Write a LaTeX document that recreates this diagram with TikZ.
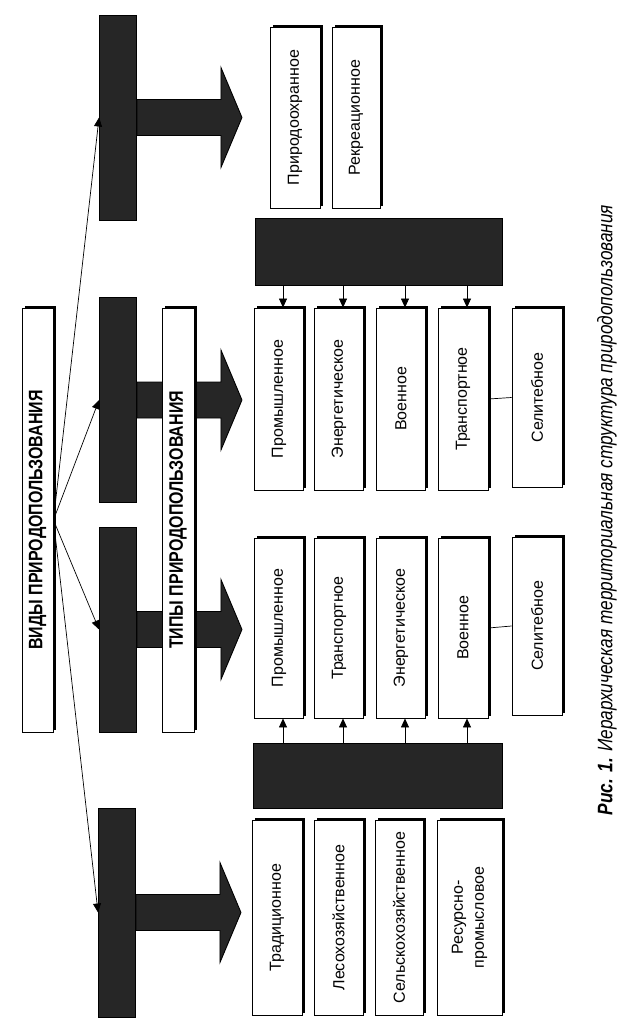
\documentclass[tikz,border=0pt]{standalone}
\usepackage{fontspec}
\setmainfont{Liberation Sans}
\newfontfamily\narrowsf[FakeStretch=0.82]{Liberation Sans}
\usetikzlibrary{arrows.meta}
\usetikzlibrary{shadows}
\newcommand{\vtext}[1]{\rotatebox{90}{#1}}
\tikzset{
  % node options
  kind/.style={draw,line width=0.9pt,fill=white,inner sep=0pt,
    drop shadow={shadow xshift=2.5pt,shadow yshift=2.5pt,fill=black,opacity=1},
    font=\fontsize{16}{19}\selectfont},
  title/.style={kind,font=\narrowsf\bfseries\fontsize{19.5}{22}\selectfont},
  hidden/.style={draw,line width=0.9pt,fill=black!85,inner sep=0pt},
  tbar/.style={hidden,minimum width=37pt,minimum height=205pt},
  % path options
  link/.style={-{Triangle[length=9pt,width=8pt]},line width=0.7pt},
  bigarrow/.style={draw,line width=0.9pt,fill=black!85},
}

\begin{document}
\begin{tikzpicture}[x=1pt,y=-1pt]
  \useasboundingbox (0,0) rectangle (633,1036);
  % left column
  \node[title,minimum width=31pt,minimum height=424pt] (vidy) at (37.5,520)
    {\vtext{ВИДЫ ПРИРОДОПОЛЬЗОВАНИЯ}};
  \node[tbar] (barA) at (118,117.5) {};
  \node[tbar] (barB) at (118,400) {};
  \node[tbar] (barC) at (118,629.5) {};
  \node[tbar,minimum height=209pt] (barD) at (117,912.5) {};
  \foreach \t in {barA,barB,barC,barD}
    \draw[bigarrow] (\t.east) ++(0,-18) -- ++(84,0) -- ++(0,-32) -- ++(21,50)
      -- ++(-21,50) -- ++(0,-32) -- ++(-84,0) -- cycle;
  \node[title,minimum width=32pt,minimum height=424pt] (tipy) at (178,520)
    {\vtext{ТИПЫ ПРИРОДОПОЛЬЗОВАНИЯ}};
  \foreach \t in {barA,barB,barC,barD}
    \draw[link] (vidy.east) -- (\t.west);

  % top group
  \node[kind,minimum width=50pt,minimum height=181pt] (tPrir) at (295,117.5) {\vtext{Природоохранное}};
  \node[kind,minimum width=48pt,minimum height=181pt] (tRekr) at (356,117.5) {\vtext{Рекреационное}};

  % upper group
  \node[hidden,minimum width=247pt,minimum height=67pt] (darkUp) at (378.5,251.5) {};
  \node[kind,minimum width=49pt,minimum height=182pt] (rPrm) at (279,399) {\vtext{Промышленное}};
  \node[kind,minimum width=49pt,minimum height=182pt] (rEnr) at (339,399) {\vtext{Энергетическое}};
  \node[kind,minimum width=49pt,minimum height=182pt] (rVoen) at (401,399) {\vtext{Военное}};
  \node[kind,minimum width=50pt,minimum height=182pt] (rTrn) at (463,399) {\vtext{Транспортное}};
  \node[kind,minimum width=50pt,minimum height=179pt] (rSel) at (537,397.5) {\vtext{Селитебное}};
  \foreach \b in {rPrm,rEnr,rVoen,rTrn}
    \draw[link] ([xshift=4pt]darkUp.south -| \b.north) -- ([xshift=4pt]\b.north);
  \draw[line width=0.7pt] (rTrn.east) -- (rSel.west);

  % middle group
  \node[kind,minimum width=49pt,minimum height=180pt] (mPrm) at (279,628) {\vtext{Промышленное}};
  \node[kind,minimum width=49pt,minimum height=180pt] (mTrn) at (339,628) {\vtext{Транспортное}};
  \node[kind,minimum width=49pt,minimum height=180pt] (mEnr) at (401,628) {\vtext{Энергетическое}};
  \node[kind,minimum width=50pt,minimum height=180pt] (mVoen) at (463,628) {\vtext{Военное}};
  \node[kind,minimum width=50pt,minimum height=178pt] (mSel) at (537,626) {\vtext{Селитебное}};
  \node[hidden,minimum width=249pt,minimum height=65pt] (darkLow) at (377.5,775.5) {};
  \foreach \b in {mPrm,mTrn,mEnr,mVoen}
    \draw[link] ([xshift=4pt]darkLow.north -| \b.south) -- ([xshift=4pt]\b.south);
  \draw[line width=0.7pt] (mVoen.east) -- (mSel.west);

  % bottom group
  \node[kind,minimum width=50pt,minimum height=195pt] (bTrad) at (277,917.5) {\vtext{Традиционное}};
  \node[kind,minimum width=49pt,minimum height=195pt] (bLes) at (338.5,917.5) {\vtext{Лесохозяйственное}};
  \node[kind,minimum width=48pt,minimum height=195pt] (bSel) at (399,917.5) {\vtext{Сельскохозяйственное}};
  \node[kind,minimum width=65pt,minimum height=195pt] (bRes) at (469.5,917.5)
    {\vtext{\begin{tabular}{@{}c@{}}Ресурсно-\\[2pt]промысловое\end{tabular}}};

  % caption
  \node[font=\narrowsf\itshape\fontsize{21}{24}\selectfont] (caption) at (607,510)
    {\vtext{\textbf{Рис. 1.} Иерархическая территориальная структура природопользования}};
\end{tikzpicture}
\end{document}
